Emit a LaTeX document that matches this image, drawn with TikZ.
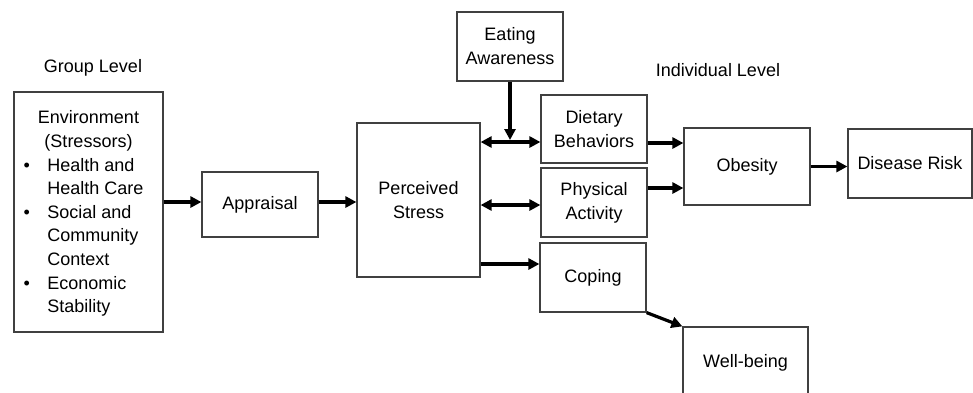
\documentclass[tikz,border=0pt]{standalone}
\usepackage{fontspec}
\setmainfont{Liberation Sans}
\usetikzlibrary{arrows.meta}
\tikzset{
  box/.style={draw=black!75, line width=1.2pt, fill=white, align=center, inner sep=0pt,
    font=\fontsize{18}{24}\selectfont},
  lbl/.style={inner sep=0pt, font=\fontsize{18}{24}\selectfont},
  arr/.style={line width=3.2pt, -{Triangle[length=11pt,width=11pt]}},
  darr/.style={line width=3.2pt, {Triangle[length=11pt,width=11pt]}-{Triangle[length=11pt,width=11pt]}}
}
\begin{document}
\begin{tikzpicture}[x=1pt,y=-1pt]
\useasboundingbox[fill=white] (0,0) rectangle (973,392);

\node[lbl] (grp) at (93,68) {Group Level};
\node[lbl] (ind) at (718,70) {Individual Level};

\node[box, minimum width=149pt, minimum height=240pt] (env) at (88.5,212) {};
\node[inner sep=0pt, font=\fontsize{18}{23.6}\selectfont] (envtext) at (83.5,213.5) {%
\renewcommand{\arraystretch}{1}%
\begin{tabular}{@{}l@{\hspace{17.5pt}}l@{}}
\multicolumn{2}{@{}c@{}}{\hspace{10pt}Environment}\\
\multicolumn{2}{@{}c@{}}{\hspace{10pt}(Stressors)}\\
• & Health and\\
  & Health Care\\
• & Social and\\
  & Community\\
  & Context\\
• & Economic\\
  & Stability
\end{tabular}};

\node[box, minimum width=116pt, minimum height=65pt] (appr) at (260,204.5) {Appraisal};
\node[box, minimum width=123pt, minimum height=154pt] (ps) at (418.5,200) {Perceived\\Stress};
\node[box, minimum width=106pt, minimum height=69pt] (eat) at (510,46.5) {Eating\\Awareness};
\node[box, minimum width=106pt, minimum height=68pt] (diet) at (594,129) {Dietary\\Behaviors};
\node[box, minimum width=106pt, minimum height=69pt] (phys) at (594,202.5) {Physical\\Activity};
\node[box, minimum width=106pt, minimum height=69pt] (cop) at (593,277.5) {Coping};
\node[box, minimum width=125pt, minimum height=72pt] (well) at (745.5,363) {Well-being};
\node[box, minimum width=126pt, minimum height=77pt] (obes) at (747,166.5) {Obesity};
\node[box, minimum width=124pt, minimum height=69pt] (dis) at (910,163.5) {Disease Risk};

\coordinate (j) at (eat.south |- 0,140);

\draw[arr] (env.east |- 0,202) -- (appr.west |- 0,202);
\draw[arr] (appr.east |- 0,202) -- (ps.west |- 0,202);
\draw[darr] (ps.east |- 0,142) -- (diet.west |- 0,142);
\draw[arr] (eat.south) -- (j);
\draw[darr] (ps.east |- 0,205) -- (phys.west |- 0,205);
\draw[arr] (ps.east |- 0,264) -- (cop.west |- 0,264);
\draw[arr] (diet.east |- 0,143) -- (obes.west |- 0,143);
\draw[arr] (phys.east |- 0,188) -- (obes.west |- 0,188);
\draw[arr] (obes.east) -- (dis.west |- obes.east);
\draw[arr] (cop.south east) -- (well.north west);
\end{tikzpicture}
\end{document}
